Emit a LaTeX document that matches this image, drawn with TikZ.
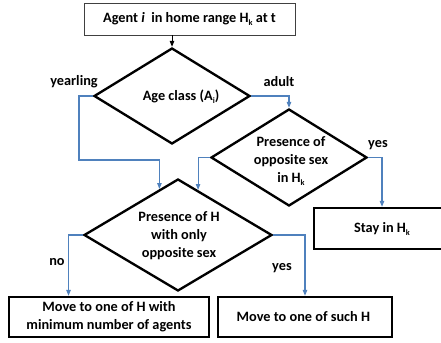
\documentclass[tikz,border=0pt]{standalone}
\usepackage{fontspec}
\setmainfont{Carlito}
\usepackage{tikz}
\usetikzlibrary{positioning, arrows.meta, shapes.geometric, calc}
\definecolor{flowblue}{RGB}{79,129,189}
\newcommand{\lowsub}[1]{\raisebox{-0.4ex}{\scriptsize #1}}

\begin{document}
\begin{tikzpicture}[
		x=0.03cm, y=-0.03cm,                 % 1 unit = 1 px of the sketch
		>={Stealth[inset=0pt, length=5pt]},
		every node/.style={font=\bfseries\fontsize{12.2}{15.4}\selectfont},
		decision/.style={
			draw,
			diamond,
			line width=2pt,
			inner sep=0pt},
		block/.style={
			draw,
			rectangle,
			line width=2pt,
			inner sep=0pt,
			align=center},
		txt/.style={align=center, inner sep=0pt},
		flow/.style={->, draw=flowblue, line width=0.9pt}
		]
		\clip (0,0) rectangle (441,343);
		
		% 0. Start
		\node[draw=black!75, line width=0.8pt, minimum width=6.33cm, minimum height=0.96cm] (start) at (189.5,19) {
			Agent \textit{i}~ in home range H\lowsub{k} at t
		};
		
		% 1. Age class
		\node[decision, minimum width=4.68cm, minimum height=2.88cm] (age) at (172,96) {};
		\node[txt] (agetext) at (181,97) {Age class (A\lowsub{i})};
		
		% 2. Opposite sex in home range
		\node[decision, minimum width=4.68cm, minimum height=2.91cm] (opp) at (289,157.5) {};
		\node[txt] (opptext) at (291,161) {
			Presence of \\
			opposite sex \\
			in H\lowsub{k}
		};
		
		% 3. Other home ranges
		\node[decision, minimum width=5.64cm, minimum height=3.36cm] (pres) at (178,235) {};
		\node[txt] (prestext) at (179,236) {
			Presence of H \\
			with only \\
			opposite sex
		};
		
		% 4. End nodes
		\node[block, minimum width=5.1cm, minimum height=1.23cm] (stay) at (399,228.5) {};
		\node[txt] (staytext) at (382,229) {Stay in H\lowsub{k}};
		\node[block, minimum width=6.0cm, minimum height=1.2cm] (movemin) at (109,317) {
			Move to one of H with \\
			minimum number of agents
		};
		\node[block, minimum width=5.22cm, minimum height=1.2cm] (movesuch) at (305,317) {
			Move to one of such H
		};
		
		% Labels
		\node (lyear) at (74,82) {yearling};
		\node (ladult) at (279,82) {adult};
		\node (lyesopp) at (378,145) {yes};
		\node (lno) at (57,262) {no};
		\node (lyespres) at (282,268) {yes};
		
		% Transitions
		\coordinate (yearbend) at (79,160);
		\draw[->, line width=0.8pt] (age.north |- start.south) -- (age.north);
		\draw[flow] (age.west) -| (yearbend) -| (pres.112);
		\draw[flow] (age.east) -| (opp.north);
		\draw[flow] (opp.east) -| (staytext.north |- stay.north);
		\draw[flow] (opp.west) -| (pres.66);
		\draw[flow] (pres.west) -| ($(movemin.north west)!0.3!(movemin.north east)$);
		\draw[flow] (pres.east) -| (movesuch.north);
		
	\end{tikzpicture}
\end{document}
